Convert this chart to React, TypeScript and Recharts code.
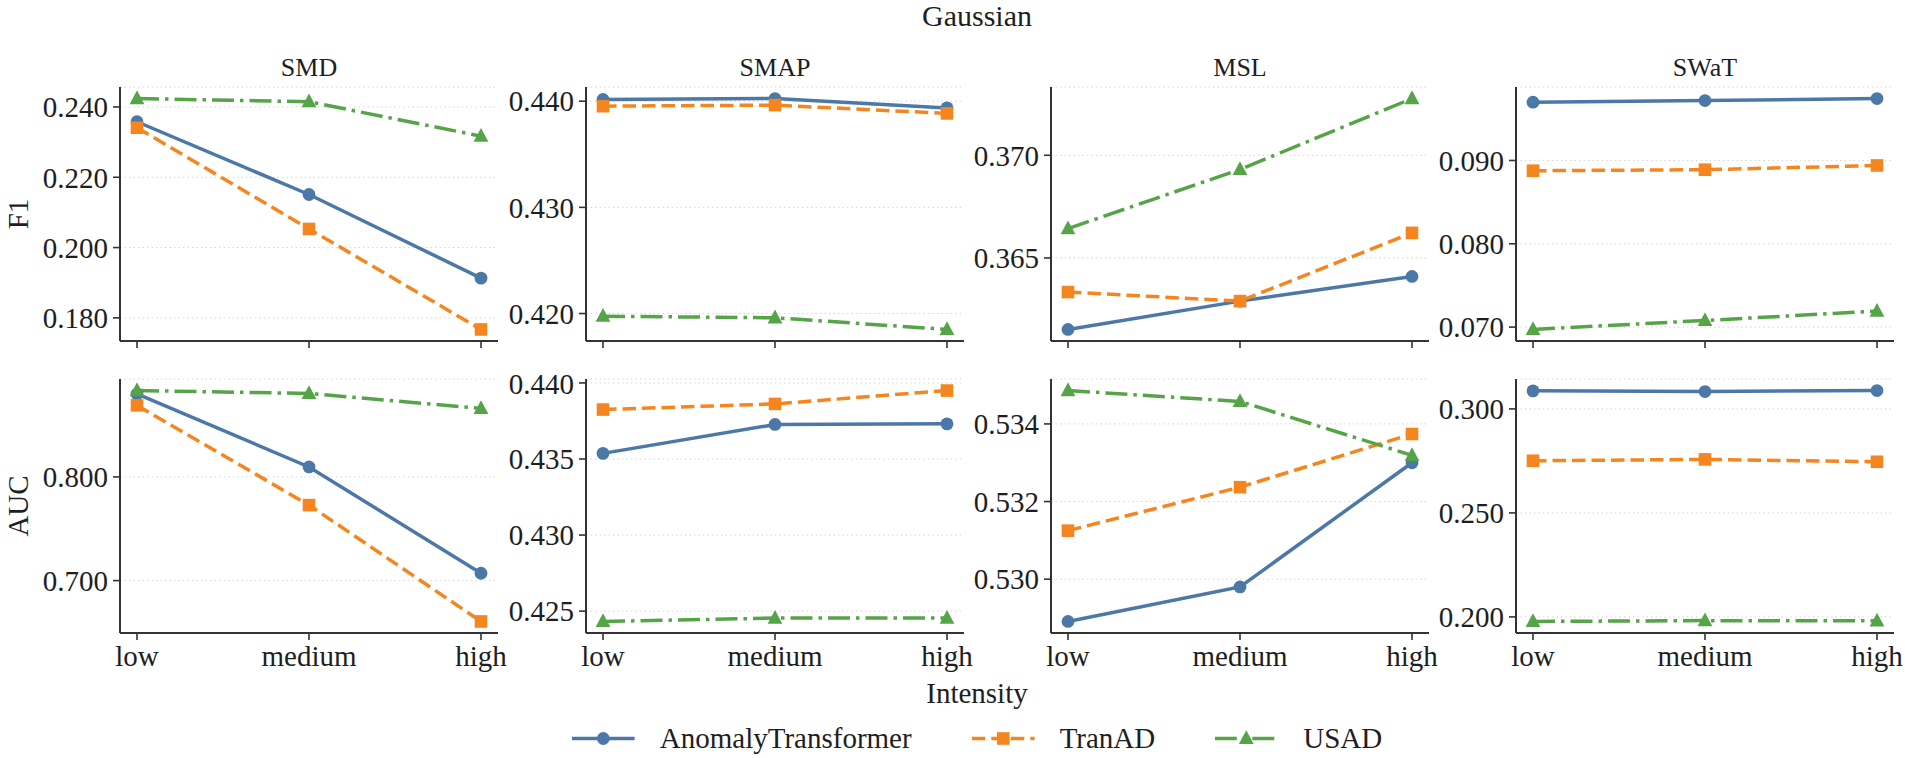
import React from "react";
import { CartesianGrid, Line, LineChart, XAxis, YAxis } from "recharts";

const intensities = ["low", "medium", "high"];
const models = ["AnomalyTransformer", "TranAD", "USAD"];
const datasets = ["SMD", "SMAP", "MSL", "SWaT"];
const metrics = ["F1", "AUC"];

// F1 per dataset, one array per model (low, medium, high)
const smdF1 = { AnomalyTransformer: [0.2358, 0.2151, 0.1913], TranAD: [0.2341, 0.2053, 0.1767], USAD: [0.2424, 0.2415, 0.2317] };
const smapF1 = { AnomalyTransformer: [0.44016, 0.44025, 0.43937], TranAD: [0.43953, 0.43963, 0.43885], USAD: [0.41975, 0.4196, 0.4185] };
const mslF1 = { AnomalyTransformer: [0.36152, 0.3629, 0.3641], TranAD: [0.36334, 0.3629, 0.36622], USAD: [0.36643, 0.36931, 0.37276] };
const swatF1 = { AnomalyTransformer: [0.09699, 0.09719, 0.09743], TranAD: [0.08877, 0.08889, 0.0894], USAD: [0.06972, 0.0708, 0.07192] };

// AUC
const smdAUC = { AnomalyTransformer: [0.88, 0.8096, 0.7071], TranAD: [0.869, 0.7728, 0.6606], USAD: [0.8833, 0.8805, 0.866] };
const smapAUC = { AnomalyTransformer: [0.43537, 0.43727, 0.43731], TranAD: [0.43825, 0.43862, 0.4395], USAD: [0.42432, 0.42454, 0.42454] };
const mslAUC = { AnomalyTransformer: [0.52891, 0.5298, 0.533], TranAD: [0.53125, 0.53237, 0.53374], USAD: [0.53486, 0.53458, 0.53319] };
const swatAUC = { AnomalyTransformer: [0.30868, 0.30835, 0.30883], TranAD: [0.27506, 0.27573, 0.27458], USAD: [0.1978, 0.1982, 0.1981] };

const smdF1Ticks = [0.18, 0.2, 0.22, 0.24];
const smapF1Ticks = [0.42, 0.43, 0.44];
const mslF1Ticks = [0.365, 0.37];
const swatF1Ticks = [0.07, 0.08, 0.09];
const smdAUCTicks = [0.7, 0.8];
const smapAUCTicks = [0.425, 0.43, 0.435, 0.44];
const mslAUCTicks = [0.53, 0.532, 0.534];
const swatAUCTicks = [0.2, 0.25, 0.3];

const panelSeries = [
  [smdF1, smapF1, mslF1, swatF1],
  [smdAUC, smapAUC, mslAUC, swatAUC],
];
const panelTicks = [
  [smdF1Ticks, smapF1Ticks, mslF1Ticks, swatF1Ticks],
  [smdAUCTicks, smapAUCTicks, mslAUCTicks, swatAUCTicks],
];

const COLORS: Record<string, string> = { AnomalyTransformer: "#4c78a8", TranAD: "#f5861f", USAD: "#55a448" };
const DASH: Record<string, string | undefined> = { AnomalyTransformer: undefined, TranAD: "13.5 6", USAD: "22 6 3.5 6" };
const MARKER: Record<string, string> = { AnomalyTransformer: "circle", TranAD: "square", USAD: "triangle" };

const FONT = "'Liberation Serif', 'DejaVu Serif', serif";
const INK = "#1e1e1e";
const SPINE = "#333333";
const LW = 3.5;

const YW = 100;
const TOP_PAD = 12;
const RIGHT_PAD = 34;
const PW = 378;
const PH = 254;
const colLefts = [120, 586, 1051, 1516];
const rowTops = [87, 379];
const CENTER_X = 977;

function markerShape(kind: string, cx: number, cy: number, color: string, key?: any) {
  if (kind === "square") return <rect key={key} x={cx - 6.3} y={cy - 6.3} width={12.6} height={12.6} fill={color} />;
  if (kind === "triangle")
    return <polygon key={key} points={`${cx},${cy - 8.2} ${cx - 7.4},${cy + 5.6} ${cx + 7.4},${cy + 5.6}`} fill={color} />;
  return <circle key={key} cx={cx} cy={cy} r={6.4} fill={color} />;
}

function dotFor(model: string) {
  return (p: any) => {
    const { cx, cy, index } = p;
    if (cx == null || cy == null) return <g key={index} />;
    return markerShape(MARKER[model], cx, cy, COLORS[model], index);
  };
}

function Panel({ series, ticks, left, top, bottomRow }: any) {
  const rows = intensities.map((lvl, i) => {
    const r: any = { intensity: lvl };
    models.forEach((m) => (r[m] = series[m][i]));
    return r;
  });
  const all = models.flatMap((m) => series[m]);
  const lo = Math.min(...all);
  const hi = Math.max(...all);
  const pad = (hi - lo) * 0.05;
  const xh = bottomRow ? 52 : 14;
  const tickStyle = { fill: INK, fontSize: 29, fontFamily: FONT };
  return (
    <div style={{ position: "absolute", left: left - YW, top: top - TOP_PAD }}>
      <LineChart
        width={YW + PW + RIGHT_PAD}
        height={TOP_PAD + PH + xh}
        data={rows}
        margin={{ top: TOP_PAD, right: RIGHT_PAD, left: 0, bottom: 0 }}
      >
        <CartesianGrid vertical={false} stroke="#d4d4d4" strokeDasharray="1.5 3" />
        <XAxis
          dataKey="intensity"
          height={xh}
          interval={0}
          padding={{ left: 17, right: 17 }}
          tickSize={7}
          tickMargin={5}
          tick={tickStyle}
          tickFormatter={bottomRow ? undefined : () => ""}
          tickLine={{ stroke: SPINE, strokeWidth: 1.6 }}
          axisLine={{ stroke: SPINE, strokeWidth: 2 }}
        />
        <XAxis xAxisId="top" dataKey="intensity" orientation="top" height={0} tick={false} tickLine={false} axisLine={{ stroke: SPINE, strokeWidth: 2 }} />
        <YAxis
          type="number"
          domain={[lo - pad, hi + pad]}
          ticks={ticks}
          width={YW}
          tickSize={7}
          tickMargin={5}
          tickFormatter={(v: number) => v.toFixed(3)}
          tick={tickStyle}
          tickLine={{ stroke: SPINE, strokeWidth: 1.6 }}
          axisLine={{ stroke: SPINE, strokeWidth: 2 }}
        />
        <YAxis yAxisId="right" orientation="right" type="number" domain={[0, 1]} width={0} tick={false} tickLine={false} axisLine={{ stroke: SPINE, strokeWidth: 2 }} />
        {models.map((m) => (
          <Line
            key={m}
            type="linear"
            dataKey={m}
            stroke={COLORS[m]}
            strokeWidth={LW}
            strokeDasharray={DASH[m]}
            dot={dotFor(m)}
            activeDot={false}
            isAnimationActive={false}
          />
        ))}
      </LineChart>
    </div>
  );
}

function Legend() {
  return (
    <div
      style={{
        position: "absolute",
        left: CENTER_X,
        top: 738,
        transform: "translate(-50%, -50%)",
        display: "flex",
        alignItems: "center",
        whiteSpace: "nowrap",
        fontSize: 29,
        fontFamily: FONT,
        color: INK,
        lineHeight: 1,
      }}
    >
      {models.map((m, i) => (
        <div key={m} style={{ display: "flex", alignItems: "center", marginLeft: i === 0 ? 0 : 60 }}>
          <svg width={63} height={20} style={{ marginRight: 25 }}>
            <line x1={0} y1={10} x2={63} y2={10} stroke={COLORS[m]} strokeWidth={LW} strokeDasharray={DASH[m]} />
            {markerShape(MARKER[m], 31.5, 10, COLORS[m])}
          </svg>
          <span>{m}</span>
        </div>
      ))}
    </div>
  );
}

const textAt = (x: number, y: number, size: number, rotate = 0): React.CSSProperties => ({
  position: "absolute",
  left: x,
  top: y,
  transform: `translate(-50%, -50%) rotate(${rotate}deg)`,
  fontSize: size,
  fontFamily: FONT,
  color: INK,
  lineHeight: 1,
  whiteSpace: "nowrap",
});

export default function App() {
  return (
    <div style={{ position: "relative", width: 1905, height: 758, background: "#fff", overflow: "hidden" }}>
      <style>{"body{margin:0}"}</style>
      <div style={textAt(CENTER_X, 16, 30)}>Gaussian</div>
      {datasets.map((d, c) => (
        <div key={d} style={textAt(colLefts[c] + PW / 2, 68, 26)}>
          {d}
        </div>
      ))}
      {metrics.map((m, r) => (
        <div key={m} style={textAt(18, rowTops[r] + PH / 2, 29, -90)}>
          {m}
        </div>
      ))}
      {panelSeries.map((row, r) =>
        row.map((s, c) => (
          <Panel
            key={`${r}-${c}`}
            series={s}
            ticks={panelTicks[r][c]}
            left={colLefts[c]}
            top={rowTops[r]}
            bottomRow={r === 1}
          />
        ))
      )}
      <div style={textAt(CENTER_X, 693, 29)}>Intensity</div>
      <Legend />
    </div>
  );
}
